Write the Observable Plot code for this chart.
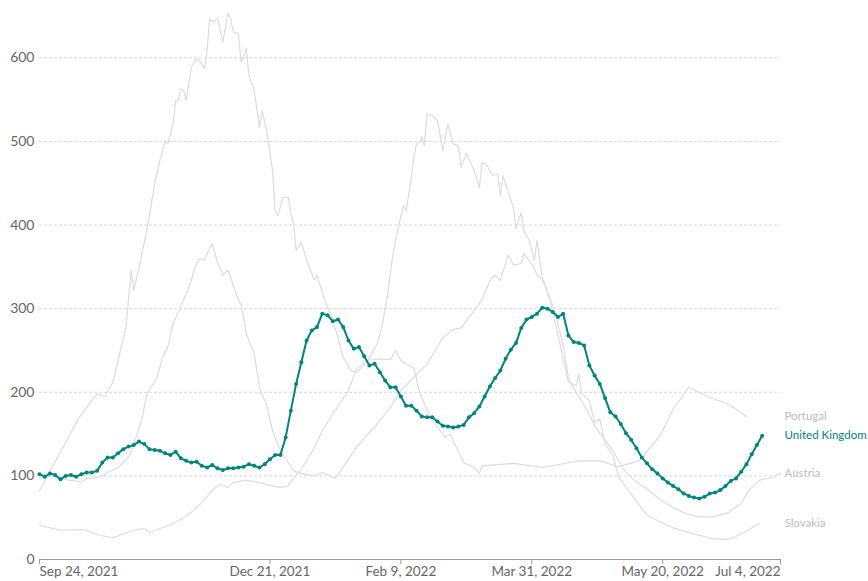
<!DOCTYPE html>
<html>
<head>
<meta charset="utf-8">
<script src="https://cdn.jsdelivr.net/npm/d3@7"></script>
<script src="https://cdn.jsdelivr.net/npm/@observablehq/plot@0.6"></script>
<style>
  html, body { margin: 0; padding: 0; background: #fff; }
  #chart svg { display: block; }
</style>
</head>
<body>
<div id="chart"></div>
<script>
// Day offsets are counted from Sep 24, 2021
const startDate = "2021-09-24";
const endDate = "2022-07-04";

// United Kingdom, one value every 2 days from the start date
const ukStep = 2;
const ukValues = [
  102, 99, 103, 101, 96, 100, 101, 99, 102, 104, 104, 106, 116, 122, 122, 127, 132, 135, 137, 141,
  138, 132, 131, 130, 127, 125, 129, 121, 118, 116, 117, 112, 110, 113, 109, 107, 109, 109, 110, 111,
  114, 112, 110, 114, 120, 125, 125, 146, 178, 210, 236, 262, 274, 278, 294, 292, 285, 287, 278, 262,
  252, 254, 243, 232, 234, 224, 214, 206, 206, 195, 184, 184, 178, 171, 170, 170, 165, 160, 159, 158,
  159, 161, 170, 175, 183, 195, 207, 217, 226, 240, 251, 259, 277, 287, 290, 294, 301, 300, 296, 290,
  294, 268, 260, 259, 256, 232, 220, 210, 193, 176, 171, 162, 151, 143, 133, 122, 115, 108, 103, 97,
  92, 88, 84, 79, 76, 74, 73, 75, 79, 80, 83, 88, 94, 97, 105, 114, 126, 137, 148
];

const portugalDays = [0, 4, 8, 17, 23, 28, 36, 40, 42, 46, 51, 55, 59, 63, 66, 69, 72, 74, 79, 84, 89, 92, 95, 97, 100, 105, 108, 112, 118, 121, 125, 130, 134, 136, 138, 141, 143, 145, 148, 150, 153, 155, 157, 158, 162, 166, 168, 169, 181, 192, 206, 214, 221, 229, 237, 242, 248, 255, 263, 265, 270];
const portugalValues = [41, 38, 35, 36, 29, 26, 35, 37, 32, 37, 43, 50, 59, 71, 83, 90, 86, 92, 95, 92, 88, 86, 88, 97, 108, 134, 154, 174, 202, 228, 238, 240, 239, 250, 238, 232, 229, 202, 178, 166, 154, 146, 150, 142, 116, 110, 103, 112, 115, 110, 118, 118, 111, 118, 148, 180, 206, 195, 186, 182, 171];

const austriaDays = [0, 4, 11, 16, 18, 23, 26, 30, 34, 36, 39, 41, 45, 47, 49, 51, 55, 56, 58, 59, 61, 63, 65, 66, 68, 69, 70, 72, 73, 76, 77, 79, 82, 84, 87, 89, 92, 95, 97, 100, 105, 108, 113, 115, 121, 130, 134, 138, 143, 148, 154, 158, 161, 163, 166, 168, 169, 172, 174, 176, 179, 181, 184, 185, 189, 190, 192, 195, 197, 200, 202, 205, 207, 210, 212, 215, 219, 223, 227, 232, 237, 242, 247, 252, 257, 263, 268, 271, 275, 280, 283];
const austriaValues = [97, 100, 95, 93, 97, 98, 104, 110, 122, 138, 166, 198, 218, 242, 254, 282, 310, 318, 334, 346, 360, 358, 373, 378, 354, 349, 340, 346, 337, 310, 305, 270, 246, 206, 182, 154, 130, 116, 106, 103, 100, 104, 97, 106, 134, 166, 182, 202, 218, 234, 265, 275, 277, 285, 298, 306, 310, 334, 340, 334, 364, 352, 354, 366, 349, 340, 335, 312, 295, 256, 217, 199, 190, 173, 160, 147, 130, 108, 95, 84, 72, 62, 55, 51, 51, 56, 67, 83, 95, 98, 103];

const slovakiaDays = [0, 4, 6, 11, 15, 19, 22, 25, 28, 30, 33, 35, 36, 38, 41, 44, 46, 48, 49, 51, 52, 53, 54, 55, 56, 58, 60, 61, 63, 64, 65, 66, 68, 70, 72, 73, 74, 76, 77, 79, 80, 82, 84, 85, 87, 89, 90, 91, 93, 95, 96, 97, 98, 100, 102, 105, 106, 109, 111, 114, 116, 119, 121, 125, 129, 131, 133, 135, 137, 139, 140, 142, 143, 144, 145, 146, 147, 148, 150, 152, 154, 156, 158, 160, 161, 163, 166, 168, 169, 171, 173, 175, 176, 177, 179, 181, 182, 184, 185, 187, 189, 190, 192, 195, 198, 200, 202, 205, 206, 207, 210, 212, 214, 216, 219, 221, 224, 227, 232, 237, 242, 247, 252, 257, 263, 265, 270, 275];
const slovakiaValues = [82, 106, 117, 146, 169, 186, 198, 195, 212, 238, 277, 346, 322, 349, 394, 450, 477, 501, 497, 521, 549, 549, 563, 561, 549, 589, 599, 597, 587, 609, 647, 643, 647, 619, 653, 647, 631, 629, 595, 611, 579, 561, 517, 537, 509, 465, 417, 411, 433, 433, 413, 403, 370, 380, 358, 334, 340, 310, 294, 266, 242, 226, 224, 236, 258, 282, 318, 366, 397, 423, 417, 457, 481, 497, 499, 505, 495, 533, 531, 525, 489, 521, 497, 495, 469, 486, 465, 445, 475, 471, 459, 461, 435, 459, 439, 421, 396, 415, 393, 382, 358, 382, 337, 310, 269, 240, 212, 208, 222, 199, 190, 164, 168, 138, 125, 100, 86, 74, 53, 45, 38, 33, 29, 25, 24, 26, 34, 43];

const yTicks = [0, 100, 200, 300, 400, 500, 600];
const xTickLabels = ["2021-09-24", "2021-12-21", "2022-02-09", "2022-03-31", "2022-05-20", "2022-07-04"];

// ---- build tables ----
const t0 = new Date(startDate + "T00:00:00Z");
const dayToDate = (d) => new Date(t0.getTime() + d * 86400000);
const toDate = (s) => new Date(s + "T00:00:00Z");

function series(country, days, values) {
  return days.map((d, i) => ({country, date: dayToDate(d), value: values[i]}));
}
const uk = ukValues.map((v, i) => ({country: "United Kingdom", date: dayToDate(i * ukStep), value: v}));
const greys = [
  ...series("Portugal", portugalDays, portugalValues),
  ...series("Austria", austriaDays, austriaValues),
  ...series("Slovakia", slovakiaDays, slovakiaValues)
];
const lastOf = (rows) => rows[rows.length - 1];
const labels = [
  {...lastOf(greys.filter(d => d.country === "Portugal")), color: "#bdbdbd"},
  {...lastOf(uk), color: "#00847e"},
  {...lastOf(greys.filter(d => d.country === "Austria")), color: "#bdbdbd"},
  {...lastOf(greys.filter(d => d.country === "Slovakia")), color: "#bdbdbd"}
];

const xEnd = toDate(endDate);
const tickDates = xTickLabels.map(toDate);
const fmt = d3.utcFormat("%b %-d, %Y");
const teal = "#00847e";

const chart = Plot.plot({
  width: 868,
  height: 581,
  marginLeft: 39,
  marginRight: 88,
  marginTop: 15.5,
  marginBottom: 22,
  style: {fontFamily: "Lato, 'Open Sans', sans-serif", fontSize: "14px", color: "#666", background: "#fff"},
  x: {type: "utc", domain: [toDate(startDate), xEnd]},
  y: {domain: [0, 650]},
  marks: [
    Plot.gridY(yTicks.filter(t => t > 0), {stroke: "#d6d6d6", strokeOpacity: 1, strokeDasharray: "3,2"}),
    Plot.axisY({ticks: yTicks, tickSize: 0, tickPadding: 5, label: null, fill: "#666", fontSize: 14}),
    Plot.ruleY([0], {stroke: "#999", strokeWidth: 1}),
    Plot.axisX({ticks: tickDates.slice(0, 1), tickFormat: fmt, tickSize: 5, tickPadding: 2, label: null, textAnchor: "start", stroke: "#999", fill: "#666", fontSize: 13.5}),
    Plot.axisX({ticks: tickDates.slice(1, -1), tickFormat: fmt, tickSize: 5, tickPadding: 2, label: null, stroke: "#999", fill: "#666", fontSize: 13.5}),
    Plot.axisX({ticks: tickDates.slice(-1), tickFormat: fmt, tickSize: 5, tickPadding: 2, label: null, textAnchor: "end", stroke: "#999", fill: "#666", fontSize: 13.5}),
    Plot.line(greys, {x: "date", y: "value", z: "country", stroke: "#dcdcdc", strokeWidth: 1.2}),
    Plot.line(uk, {x: "date", y: "value", stroke: teal, strokeWidth: 2}),
    Plot.dot(uk, {x: "date", y: "value", fill: teal, r: 2, stroke: null}),
    Plot.text(labels, {x: () => xEnd, y: "value", text: "country", fill: "color", dx: 4, textAnchor: "start", fontSize: 11.5})
  ]
});
document.getElementById("chart").appendChild(chart);
</script>
</body>
</html>
